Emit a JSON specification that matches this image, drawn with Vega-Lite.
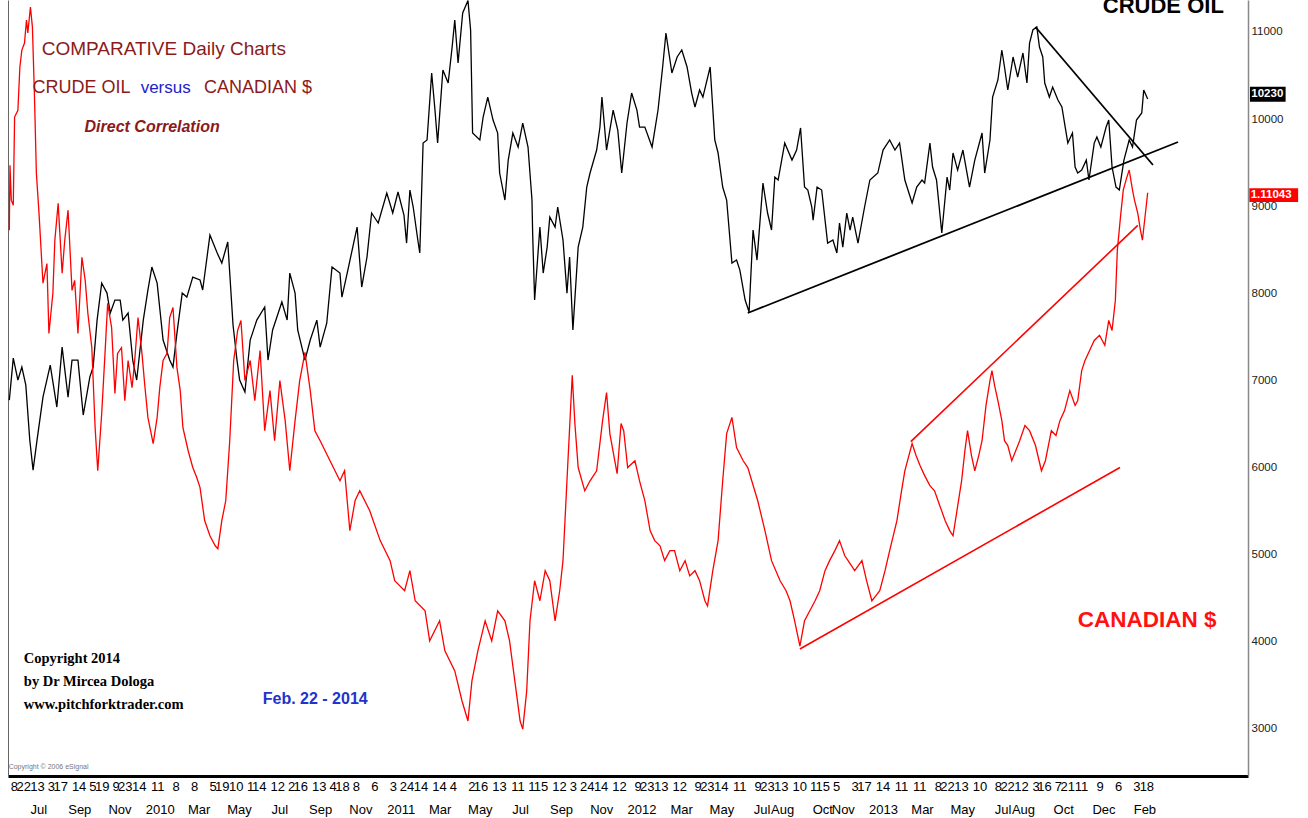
{
  "$schema": "https://vega.github.io/schema/vega-lite/v6.json",
  "width": 1240,
  "height": 776,
  "autosize": "none",
  "padding": {"left": 8, "top": 0, "right": 60, "bottom": 42},
  "background": "white",
  "config": {
    "view": {"stroke": null},
    "font": "Liberation Sans, Arial, sans-serif",
    "axis": {"grid": false, "title": null, "labelFont": "Liberation Sans, Arial, sans-serif"}
  },
  "datasets": {
    "crude": [
      {"date":"2009-06-01","v":6775},{"date":"2009-06-07","v":7257},{"date":"2009-06-14","v":7005},{"date":"2009-06-20","v":7154},{"date":"2009-06-26","v":6947},{"date":"2009-07-02","v":6316},{"date":"2009-07-07","v":5971},{"date":"2009-07-13","v":6316},{"date":"2009-07-22","v":6809},{"date":"2009-08-02","v":7177},{"date":"2009-08-08","v":6890},{"date":"2009-08-12","v":6695},{"date":"2009-08-20","v":7383},{"date":"2009-08-29","v":6809},{"date":"2009-09-04","v":7234},{"date":"2009-09-13","v":7234},{"date":"2009-09-21","v":6603},{"date":"2009-10-01","v":7039},{"date":"2009-10-06","v":7154},{"date":"2009-10-12","v":7693},{"date":"2009-10-19","v":8118},{"date":"2009-10-27","v":8003},{"date":"2009-11-01","v":7774},{"date":"2009-11-08","v":7923},{"date":"2009-11-16","v":7923},{"date":"2009-11-20","v":7693},{"date":"2009-11-28","v":7774},{"date":"2009-12-05","v":7234},{"date":"2009-12-11","v":7005},{"date":"2009-12-21","v":7693},{"date":"2009-12-28","v":8038},
      {"date":"2010-01-03","v":8302},{"date":"2010-01-11","v":8118},{"date":"2010-01-20","v":7464},{"date":"2010-01-30","v":7234},{"date":"2010-02-04","v":7154},{"date":"2010-02-10","v":7544},{"date":"2010-02-18","v":8003},{"date":"2010-02-25","v":7957},{"date":"2010-03-06","v":8187},{"date":"2010-03-17","v":8153},{"date":"2010-03-21","v":8038},{"date":"2010-04-01","v":8669},{"date":"2010-04-12","v":8463},{"date":"2010-04-19","v":8348},{"date":"2010-04-28","v":8589},{"date":"2010-05-06","v":7636},{"date":"2010-05-12","v":7234},{"date":"2010-05-16","v":7005},{"date":"2010-05-24","v":6867},{"date":"2010-06-01","v":7464},{"date":"2010-06-11","v":7693},{"date":"2010-06-23","v":7843},{"date":"2010-06-28","v":7234},{"date":"2010-07-05","v":7579},{"date":"2010-07-19","v":7900},{"date":"2010-07-27","v":7693},{"date":"2010-07-31","v":8233},{"date":"2010-08-08","v":8003},{"date":"2010-08-12","v":7579},{"date":"2010-08-23","v":7234},{"date":"2010-08-31","v":7464},{"date":"2010-09-10","v":7693},{"date":"2010-09-15","v":7383},{"date":"2010-09-25","v":7659},{"date":"2010-10-03","v":8302},{"date":"2010-10-15","v":8233},{"date":"2010-10-18","v":7957},{"date":"2010-10-26","v":8233},{"date":"2010-11-10","v":8761},{"date":"2010-11-17","v":8072},{"date":"2010-11-25","v":8417},{"date":"2010-12-02","v":8922},{"date":"2010-12-12","v":8807},{"date":"2010-12-25","v":9151},
      {"date":"2011-01-03","v":8922},{"date":"2011-01-11","v":9163},{"date":"2011-01-20","v":8899},{"date":"2011-01-24","v":8577},{"date":"2011-01-29","v":9186},{"date":"2011-02-03","v":8991},{"date":"2011-02-10","v":8612},{"date":"2011-02-13","v":8463},{"date":"2011-02-18","v":9725},{"date":"2011-02-24","v":9760},{"date":"2011-03-03","v":10529},{"date":"2011-03-08","v":10104},{"date":"2011-03-12","v":9725},{"date":"2011-03-20","v":10563},{"date":"2011-03-28","v":10414},{"date":"2011-04-03","v":10827},{"date":"2011-04-07","v":11137},{"date":"2011-04-12","v":10644},{"date":"2011-04-19","v":11218},{"date":"2011-04-27","v":11360},{"date":"2011-05-01","v":11023},{"date":"2011-05-04","v":9840},{"date":"2011-05-15","v":9760},{"date":"2011-05-20","v":10024},{"date":"2011-05-27","v":10253},{"date":"2011-06-04","v":9989},{"date":"2011-06-11","v":9840},{"date":"2011-06-14","v":9381},{"date":"2011-06-22","v":9071},{"date":"2011-06-27","v":9530},{"date":"2011-07-04","v":9840},{"date":"2011-07-12","v":9679},{"date":"2011-07-19","v":9955},{"date":"2011-07-27","v":9679},{"date":"2011-08-02","v":9071},{"date":"2011-08-03","v":8692},{"date":"2011-08-06","v":7923},{"date":"2011-08-14","v":8761},{"date":"2011-08-19","v":8233},{"date":"2011-08-25","v":8531},{"date":"2011-08-29","v":8876},{"date":"2011-09-06","v":8761},{"date":"2011-09-10","v":8991},{"date":"2011-09-18","v":8612},{"date":"2011-09-24","v":8003},{"date":"2011-09-28","v":8417},{"date":"2011-10-03","v":7579},{"date":"2011-10-11","v":8531},{"date":"2011-10-18","v":8761},{"date":"2011-10-24","v":9220},{"date":"2011-10-29","v":9381},{"date":"2011-11-08","v":9645},{"date":"2011-11-13","v":9909},{"date":"2011-11-16","v":10253},{"date":"2011-11-23","v":9645},{"date":"2011-12-03","v":10104},{"date":"2011-12-10","v":9875},{"date":"2011-12-16","v":9381},{"date":"2011-12-24","v":9955},{"date":"2011-12-31","v":10299},
      {"date":"2012-01-08","v":10104},{"date":"2012-01-12","v":9909},{"date":"2012-01-20","v":9909},{"date":"2012-01-31","v":9679},{"date":"2012-02-09","v":10104},{"date":"2012-02-16","v":10598},{"date":"2012-02-21","v":10988},{"date":"2012-03-01","v":10529},{"date":"2012-03-09","v":10713},{"date":"2012-03-16","v":10793},{"date":"2012-03-24","v":10598},{"date":"2012-03-31","v":10299},{"date":"2012-04-05","v":10139},{"date":"2012-04-12","v":10334},{"date":"2012-04-17","v":10253},{"date":"2012-04-28","v":10598},{"date":"2012-05-05","v":9760},{"date":"2012-05-10","v":9611},{"date":"2012-05-17","v":9220},{"date":"2012-05-23","v":9071},{"date":"2012-05-31","v":8348},{"date":"2012-06-07","v":8382},{"date":"2012-06-12","v":8267},{"date":"2012-06-20","v":7923},{"date":"2012-06-26","v":7785},{"date":"2012-07-02","v":8727},{"date":"2012-07-08","v":8382},{"date":"2012-07-17","v":9266},{"date":"2012-07-24","v":8922},{"date":"2012-07-30","v":8727},{"date":"2012-08-04","v":9335},{"date":"2012-08-09","v":9301},{"date":"2012-08-19","v":9725},{"date":"2012-08-30","v":9530},{"date":"2012-09-06","v":9645},{"date":"2012-09-12","v":9898},{"date":"2012-09-18","v":9220},{"date":"2012-09-23","v":9186},{"date":"2012-09-29","v":8991},{"date":"2012-10-01","v":8841},{"date":"2012-10-07","v":9220},{"date":"2012-10-14","v":9186},{"date":"2012-10-23","v":8577},{"date":"2012-10-31","v":8612},{"date":"2012-11-06","v":8463},{"date":"2012-11-10","v":8807},{"date":"2012-11-15","v":8531},{"date":"2012-11-21","v":8922},{"date":"2012-11-26","v":8727},{"date":"2012-11-30","v":8876},{"date":"2012-12-08","v":8577},{"date":"2012-12-18","v":8991},{"date":"2012-12-26","v":9301},
      {"date":"2013-01-07","v":9381},{"date":"2013-01-15","v":9645},{"date":"2013-01-25","v":9760},{"date":"2013-02-02","v":9645},{"date":"2013-02-09","v":9725},{"date":"2013-02-17","v":9301},{"date":"2013-02-28","v":9037},{"date":"2013-03-07","v":9220},{"date":"2013-03-15","v":9301},{"date":"2013-03-19","v":9266},{"date":"2013-03-27","v":9725},{"date":"2013-03-31","v":9450},{"date":"2013-04-06","v":9301},{"date":"2013-04-14","v":8692},{"date":"2013-04-22","v":9335},{"date":"2013-04-26","v":9186},{"date":"2013-05-01","v":9611},{"date":"2013-05-08","v":9415},{"date":"2013-05-16","v":9645},{"date":"2013-05-26","v":9220},{"date":"2013-06-03","v":9530},{"date":"2013-06-14","v":9840},{"date":"2013-06-18","v":9381},{"date":"2013-06-26","v":9760},{"date":"2013-06-30","v":10253},{"date":"2013-07-08","v":10449},{"date":"2013-07-14","v":10793},{"date":"2013-07-18","v":10598},{"date":"2013-07-23","v":10334},{"date":"2013-07-31","v":10713},{"date":"2013-08-07","v":10483},{"date":"2013-08-15","v":10759},{"date":"2013-08-21","v":10414},{"date":"2013-08-25","v":10873},{"date":"2013-08-30","v":11023},{"date":"2013-09-05","v":11057},{"date":"2013-09-09","v":10827},{"date":"2013-09-14","v":10713},{"date":"2013-09-17","v":10414},{"date":"2013-09-24","v":10253},{"date":"2013-09-29","v":10368},{"date":"2013-10-07","v":10219},{"date":"2013-10-13","v":10139},{"date":"2013-10-18","v":9909},{"date":"2013-10-22","v":9725},{"date":"2013-10-29","v":9840},{"date":"2013-11-02","v":9450},{"date":"2013-11-06","v":9381},{"date":"2013-11-12","v":9415},{"date":"2013-11-19","v":9530},{"date":"2013-11-23","v":9301},{"date":"2013-12-01","v":9725},{"date":"2013-12-05","v":9794},{"date":"2013-12-11","v":9679},{"date":"2013-12-19","v":9909},{"date":"2013-12-23","v":9989},{"date":"2013-12-28","v":9450},
      {"date":"2014-01-03","v":9220},{"date":"2014-01-08","v":9186},{"date":"2014-01-15","v":9530},{"date":"2014-01-23","v":9760},{"date":"2014-01-28","v":9679},{"date":"2014-02-03","v":9989},{"date":"2014-02-11","v":10070},{"date":"2014-02-14","v":10334},{"date":"2014-02-20","v":10230}
    ],
    "cad": [
      {"date":"2009-06-01","v":1.0988},{"date":"2009-06-02","v":1.1189},{"date":"2009-06-04","v":1.1081},{"date":"2009-06-07","v":1.1065},{"date":"2009-06-09","v":1.1338},{"date":"2009-06-14","v":1.1359},{"date":"2009-06-17","v":1.1493},{"date":"2009-06-20","v":1.1545},{"date":"2009-06-24","v":1.1567},{"date":"2009-06-27","v":1.1638},{"date":"2009-06-29","v":1.1598},{"date":"2009-07-03","v":1.1678},{"date":"2009-07-06","v":1.1616},{"date":"2009-07-09","v":1.1412},{"date":"2009-07-12","v":1.1164},{"date":"2009-07-16","v":1.1040},{"date":"2009-07-22","v":1.0824},{"date":"2009-07-28","v":1.0885},{"date":"2009-07-31","v":1.0669},{"date":"2009-08-06","v":1.0793},{"date":"2009-08-09","v":1.0957},{"date":"2009-08-14","v":1.1071},{"date":"2009-08-20","v":1.0855},{"date":"2009-08-24","v":1.0957},{"date":"2009-08-29","v":1.1050},{"date":"2009-09-04","v":1.0802},{"date":"2009-09-08","v":1.0833},{"date":"2009-09-13","v":1.0669},{"date":"2009-09-19","v":1.0904},{"date":"2009-09-24","v":1.0833},{"date":"2009-09-28","v":1.0731},{"date":"2009-10-04","v":1.0625},{"date":"2009-10-09","v":1.0378},{"date":"2009-10-13","v":1.0244},{"date":"2009-10-19","v":1.0421},{"date":"2009-10-24","v":1.0607},{"date":"2009-10-28","v":1.0762},{"date":"2009-11-03","v":1.0687},{"date":"2009-11-08","v":1.0483},{"date":"2009-11-12","v":1.0607},{"date":"2009-11-18","v":1.0625},{"date":"2009-11-23","v":1.0461},{"date":"2009-11-28","v":1.0585},{"date":"2009-12-04","v":1.0501},{"date":"2009-12-08","v":1.0585},{"date":"2009-12-13","v":1.0718},{"date":"2009-12-19","v":1.0607},{"date":"2009-12-23","v":1.0514},{"date":"2009-12-28","v":1.0409},
      {"date":"2010-01-05","v":1.0328},{"date":"2010-01-11","v":1.0409},{"date":"2010-01-15","v":1.0501},{"date":"2010-01-20","v":1.0585},{"date":"2010-01-26","v":1.0607},{"date":"2010-01-30","v":1.0718},{"date":"2010-02-04","v":1.0749},{"date":"2010-02-10","v":1.0563},{"date":"2010-02-15","v":1.0492},{"date":"2010-02-19","v":1.0378},{"date":"2010-02-27","v":1.0306},{"date":"2010-03-06","v":1.0254},{"date":"2010-03-12","v":1.0223},{"date":"2010-03-17","v":1.0192},{"date":"2010-03-24","v":1.0090},{"date":"2010-04-01","v":1.0043},{"date":"2010-04-09","v":1.0012},{"date":"2010-04-13","v":1.0003},{"date":"2010-04-19","v":1.0090},{"date":"2010-04-25","v":1.0152},{"date":"2010-05-01","v":1.0337},{"date":"2010-05-07","v":1.0585},{"date":"2010-05-13","v":1.0678},{"date":"2010-05-18","v":1.0709},{"date":"2010-05-24","v":1.0523},{"date":"2010-06-01","v":1.0585},{"date":"2010-06-08","v":1.0461},{"date":"2010-06-16","v":1.0616},{"date":"2010-06-23","v":1.0368},{"date":"2010-07-01","v":1.0492},{"date":"2010-07-08","v":1.0337},{"date":"2010-07-16","v":1.0523},{"date":"2010-07-24","v":1.0399},{"date":"2010-07-31","v":1.0244},{"date":"2010-08-08","v":1.0399},{"date":"2010-08-15","v":1.0523},{"date":"2010-08-23","v":1.0610},{"date":"2010-08-31","v":1.0492},{"date":"2010-09-07","v":1.0368},{"date":"2010-09-15","v":1.0337},{"date":"2010-09-30","v":1.0275},{"date":"2010-10-15","v":1.0213},{"date":"2010-10-22","v":1.0244},{"date":"2010-10-30","v":1.0059},{"date":"2010-11-07","v":1.0152},{"date":"2010-11-14","v":1.0182},{"date":"2010-11-29","v":1.0121},{"date":"2010-12-15","v":1.0028},{"date":"2010-12-30","v":0.9966},
      {"date":"2011-01-06","v":0.9904},{"date":"2011-01-21","v":0.9873},{"date":"2011-01-29","v":0.9935},{"date":"2011-02-06","v":0.9842},{"date":"2011-02-21","v":0.9811},{"date":"2011-02-28","v":0.9718},{"date":"2011-03-15","v":0.9780},{"date":"2011-03-23","v":0.9687},{"date":"2011-04-07","v":0.9625},{"date":"2011-04-18","v":0.9532},{"date":"2011-04-27","v":0.9470},{"date":"2011-05-03","v":0.9594},{"date":"2011-05-12","v":0.9687},{"date":"2011-05-23","v":0.9780},{"date":"2011-06-02","v":0.9718},{"date":"2011-06-11","v":0.9811},{"date":"2011-06-22","v":0.9780},{"date":"2011-06-29","v":0.9718},{"date":"2011-07-07","v":0.9594},{"date":"2011-07-15","v":0.9470},{"date":"2011-07-19","v":0.9445},{"date":"2011-07-25","v":0.9563},{"date":"2011-07-30","v":0.9780},{"date":"2011-08-06","v":0.9904},{"date":"2011-08-14","v":0.9842},{"date":"2011-08-22","v":0.9935},{"date":"2011-08-29","v":0.9904},{"date":"2011-09-06","v":0.9780},{"date":"2011-09-13","v":0.9873},{"date":"2011-09-18","v":0.9966},{"date":"2011-09-24","v":1.0213},{"date":"2011-10-02","v":1.0539},{"date":"2011-10-06","v":1.0390},{"date":"2011-10-11","v":1.0254},{"date":"2011-10-21","v":1.0182},{"date":"2011-10-29","v":1.0213},{"date":"2011-11-08","v":1.0244},{"date":"2011-11-17","v":1.0399},{"date":"2011-11-23","v":1.0486},{"date":"2011-11-28","v":1.0359},{"date":"2011-12-09","v":1.0235},{"date":"2011-12-15","v":1.0390},{"date":"2011-12-19","v":1.0368},{"date":"2011-12-25","v":1.0254},
      {"date":"2012-01-05","v":1.0275},{"date":"2012-01-12","v":1.0213},{"date":"2012-01-20","v":1.0152},{"date":"2012-01-28","v":1.0059},{"date":"2012-02-04","v":1.0028},{"date":"2012-02-12","v":1.0012},{"date":"2012-02-19","v":0.9966},{"date":"2012-02-27","v":0.9997},{"date":"2012-03-05","v":0.9997},{"date":"2012-03-13","v":0.9935},{"date":"2012-03-21","v":0.9966},{"date":"2012-03-28","v":0.9919},{"date":"2012-04-05","v":0.9935},{"date":"2012-04-12","v":0.9904},{"date":"2012-04-20","v":0.9842},{"date":"2012-04-24","v":0.9826},{"date":"2012-05-02","v":0.9935},{"date":"2012-05-10","v":1.0028},{"date":"2012-05-17","v":1.0213},{"date":"2012-05-23","v":1.0359},{"date":"2012-05-31","v":1.0409},{"date":"2012-06-07","v":1.0316},{"date":"2012-06-17","v":1.0275},{"date":"2012-06-24","v":1.0254},{"date":"2012-06-30","v":1.0213},{"date":"2012-07-09","v":1.0152},{"date":"2012-07-20","v":1.0059},{"date":"2012-07-30","v":0.9966},{"date":"2012-08-12","v":0.9904},{"date":"2012-08-21","v":0.9873},{"date":"2012-08-27","v":0.9842},{"date":"2012-09-03","v":0.9780},{"date":"2012-09-11","v":0.9702},{"date":"2012-09-18","v":0.9780},{"date":"2012-09-26","v":0.9811},{"date":"2012-10-04","v":0.9842},{"date":"2012-10-11","v":0.9873},{"date":"2012-10-19","v":0.9935},{"date":"2012-10-26","v":0.9966},{"date":"2012-11-03","v":0.9997},{"date":"2012-11-10","v":1.0028},{"date":"2012-11-18","v":0.9981},{"date":"2012-11-23","v":0.9966},{"date":"2012-12-03","v":0.9935},{"date":"2012-12-14","v":0.9966},{"date":"2012-12-21","v":0.9904},{"date":"2012-12-29","v":0.9842},
      {"date":"2013-01-04","v":0.9857},{"date":"2013-01-10","v":0.9873},{"date":"2013-01-18","v":0.9935},{"date":"2013-01-25","v":0.9997},{"date":"2013-02-05","v":1.0090},{"date":"2013-02-12","v":1.0182},{"date":"2013-02-17","v":1.0244},{"date":"2013-02-28","v":1.0328},{"date":"2013-03-06","v":1.0291},{"date":"2013-03-12","v":1.0260},{"date":"2013-03-19","v":1.0229},{"date":"2013-03-27","v":1.0198},{"date":"2013-04-03","v":1.0182},{"date":"2013-04-11","v":1.0136},{"date":"2013-04-19","v":1.0090},{"date":"2013-04-26","v":1.0059},{"date":"2013-05-01","v":1.0043},{"date":"2013-05-07","v":1.0121},{"date":"2013-05-14","v":1.0213},{"date":"2013-05-19","v":1.0306},{"date":"2013-05-23","v":1.0368},{"date":"2013-05-29","v":1.0291},{"date":"2013-06-03","v":1.0244},{"date":"2013-06-09","v":1.0291},{"date":"2013-06-14","v":1.0337},{"date":"2013-06-20","v":1.0446},{"date":"2013-06-26","v":1.0523},{"date":"2013-06-29","v":1.0554},{"date":"2013-07-03","v":1.0508},{"date":"2013-07-08","v":1.0461},{"date":"2013-07-14","v":1.0399},{"date":"2013-07-18","v":1.0337},{"date":"2013-07-23","v":1.0322},{"date":"2013-07-29","v":1.0275},{"date":"2013-08-04","v":1.0306},{"date":"2013-08-10","v":1.0337},{"date":"2013-08-18","v":1.0384},{"date":"2013-08-25","v":1.0368},{"date":"2013-09-03","v":1.0322},{"date":"2013-09-12","v":1.0244},{"date":"2013-09-18","v":1.0275},{"date":"2013-09-27","v":1.0368},{"date":"2013-10-04","v":1.0353},{"date":"2013-10-10","v":1.0399},{"date":"2013-10-17","v":1.0430},{"date":"2013-10-25","v":1.0492},{"date":"2013-11-02","v":1.0446},{"date":"2013-11-06","v":1.0461},{"date":"2013-11-12","v":1.0554},{"date":"2013-11-17","v":1.0585},{"date":"2013-11-24","v":1.0616},{"date":"2013-12-01","v":1.0647},{"date":"2013-12-09","v":1.0663},{"date":"2013-12-17","v":1.0632},{"date":"2013-12-23","v":1.0709},{"date":"2013-12-28","v":1.0678},
      {"date":"2014-01-02","v":1.0771},{"date":"2014-01-05","v":1.0926},{"date":"2014-01-10","v":1.1034},{"date":"2014-01-14","v":1.1112},{"date":"2014-01-19","v":1.1149},{"date":"2014-01-23","v":1.1174},{"date":"2014-01-28","v":1.1112},{"date":"2014-01-31","v":1.1081},{"date":"2014-02-05","v":1.1040},{"date":"2014-02-09","v":1.0988},{"date":"2014-02-12","v":1.0957},{"date":"2014-02-20","v":1.1104}
    ]
  },
  "encoding": {
    "x": {"field": "date", "type": "temporal", "scale": {"type": "utc", "domain": [{"year": 2009, "month": 5, "date": 30, "utc": true}, {"year": 2014, "month": 7, "date": 22, "utc": true}], "nice": false}, "axis": null}
  },
  "layer": [
    {
      "data": {"name": "crude"},
      "mark": {"type": "line", "color": "#000000", "strokeWidth": 1.3},
      "encoding": {
        "x": {"field": "date", "type": "temporal", "scale": {"type": "utc", "domain": [{"year": 2009, "month": 5, "date": 30, "utc": true}, {"year": 2014, "month": 7, "date": 22, "utc": true}], "nice": false},
          "axis": {"orient": "bottom", "values": {"expr": "[utc(2009,5,8),utc(2009,5,22),utc(2009,6,13),utc(2009,7,3),utc(2009,7,17),utc(2009,8,14),utc(2009,9,5),utc(2009,9,19),utc(2009,10,9),utc(2009,10,23),utc(2009,11,14),utc(2010,0,11),utc(2010,1,8),utc(2010,2,8),utc(2010,3,5),utc(2010,3,19),utc(2010,4,10),utc(2010,5,1),utc(2010,5,14),utc(2010,6,12),utc(2010,7,2),utc(2010,7,16),utc(2010,8,13),utc(2010,9,4),utc(2010,9,18),utc(2010,10,8),utc(2010,11,6),utc(2011,0,3),utc(2011,0,24),utc(2011,1,14),utc(2011,2,14),utc(2011,3,4),utc(2011,4,2),utc(2011,4,16),utc(2011,5,13),utc(2011,6,11),utc(2011,7,1),utc(2011,7,15),utc(2011,8,12),utc(2011,9,3),utc(2011,9,24),utc(2011,10,14),utc(2011,11,12),utc(2012,0,9),utc(2012,0,23),utc(2012,1,13),utc(2012,2,12),utc(2012,3,9),utc(2012,3,23),utc(2012,4,14),utc(2012,5,11),utc(2012,6,9),utc(2012,6,23),utc(2012,7,13),utc(2012,8,10),utc(2012,9,1),utc(2012,9,15),utc(2012,10,5),utc(2012,11,3),utc(2012,11,17),utc(2013,0,14),utc(2013,1,11),utc(2013,2,11),utc(2013,3,8),utc(2013,3,22),utc(2013,4,13),utc(2013,5,10),utc(2013,6,8),utc(2013,6,22),utc(2013,7,12),utc(2013,8,3),utc(2013,8,16),utc(2013,9,7),utc(2013,9,21),utc(2013,10,11),utc(2013,11,9),utc(2014,0,6),utc(2014,1,3),utc(2014,1,18)]"},
            "labelExpr": "'' + utcdate(datum.value)", "domainColor": "#000000", "domainWidth": 3, "ticks": false, "labelPadding": 4, "labelFontSize": 13, "labelColor": "#000000", "labelOverlap": false, "labelFlush": false, "labelBound": false}},
        "y": {"field": "v", "type": "quantitative", "scale": {"domain": [2460, 11367], "nice": false, "zero": false},
          "axis": {"orient": "right", "values": [3000, 4000, 5000, 6000, 7000, 8000, 9000, 10000, 11000], "format": "d", "ticks": false, "labelPadding": 3, "labelAlign": "left", "labelFontSize": 11.5, "labelColor": "#222222", "domainColor": "#888888", "domainWidth": 1.5, "labelOverlap": false}}
      }
    },
    {
      "data": {"name": "cad"},
      "mark": {"type": "line", "color": "#ff0000", "strokeWidth": 1.3},
      "encoding": {
        "x": {"field": "date", "type": "temporal", "scale": {"type": "utc", "domain": [{"year": 2009, "month": 5, "date": 30, "utc": true}, {"year": 2014, "month": 7, "date": 22, "utc": true}], "nice": false},
          "axis": {"orient": "bottom", "values": {"expr": "[utc(2009,6,15),utc(2009,8,15),utc(2009,10,15),utc(2010,0,15),utc(2010,2,15),utc(2010,4,15),utc(2010,6,15),utc(2010,8,15),utc(2010,10,15),utc(2011,0,15),utc(2011,2,15),utc(2011,4,15),utc(2011,6,15),utc(2011,8,15),utc(2011,10,15),utc(2012,0,15),utc(2012,2,15),utc(2012,4,15),utc(2012,6,15),utc(2012,7,15),utc(2012,9,15),utc(2012,10,15),utc(2013,0,15),utc(2013,2,15),utc(2013,4,15),utc(2013,6,15),utc(2013,7,15),utc(2013,9,15),utc(2013,11,15),utc(2014,1,15)]"},
            "labelExpr": "utcmonth(datum.value) == 0 ? utcFormat(datum.value, '%Y') : utcFormat(datum.value, '%b')", "domain": false, "ticks": false, "labelPadding": 27, "labelFontSize": 13, "labelColor": "#000000", "labelOverlap": false, "labelFlush": false, "labelBound": false}},
        "y": {"field": "v", "type": "quantitative", "scale": {"domain": [0.93, 1.17], "nice": false, "zero": false},
          "axis": {"orient": "left", "labels": false, "ticks": false, "domainColor": "#666666", "domainWidth": 1}}
      }
    },
    {
      "data": {"values": [
        {"date": "2012-06-24", "date2": "2014-04-07", "v": 7774, "v2": 9737},
        {"date": "2013-09-03", "date2": "2014-02-28", "v": 11057, "v2": 9473}
      ]},
      "mark": {"type": "rule", "color": "#000000", "strokeWidth": 1.8},
      "encoding": {
        "x2": {"field": "date2"},
        "y": {"field": "v", "type": "quantitative", "scale": {"domain": [2460, 11367], "nice": false, "zero": false}, "axis": null},
        "y2": {"field": "v2"}
      }
    },
    {
      "data": {"values": [
        {"date": "2012-09-11", "date2": "2014-01-09", "v": 0.9693, "v2": 1.0254},
        {"date": "2013-02-26", "date2": "2014-02-05", "v": 1.0334, "v2": 1.1003}
      ]},
      "mark": {"type": "rule", "color": "#ff0000", "strokeWidth": 1.6},
      "encoding": {
        "x2": {"field": "date2"},
        "y": {"field": "v", "type": "quantitative", "scale": {"domain": [0.93, 1.17], "nice": false, "zero": false}, "axis": null},
        "y2": {"field": "v2"}
      }
    },
    {
      "data": {"values": [
        {"date": "2009-07-20", "v": 10736, "label": "COMPARATIVE Daily Charts"}
      ]},
      "mark": {"type": "text", "align": "left", "baseline": "alphabetic", "fontSize": 19, "color": "#8b1a1a"},
      "encoding": {
        "y": {"field": "v", "type": "quantitative", "scale": {"domain": [2460, 11367], "nice": false, "zero": false}, "axis": null},
        "text": {"field": "label"}
      }
    },
    {
      "data": {"values": [
        {"date": "2009-07-06", "v": 10299, "label": "CRUDE OIL"},
        {"date": "2010-03-23", "v": 10299, "label": "CANADIAN $"}
      ]},
      "mark": {"type": "text", "align": "left", "baseline": "alphabetic", "fontSize": 18, "color": "#8b1a1a"},
      "encoding": {
        "y": {"field": "v", "type": "quantitative", "scale": {"domain": [2460, 11367], "nice": false, "zero": false}, "axis": null},
        "text": {"field": "label"}
      }
    },
    {
      "data": {"values": [
        {"date": "2009-12-17", "v": 10299, "label": "versus"}
      ]},
      "mark": {"type": "text", "align": "left", "baseline": "alphabetic", "fontSize": 17, "color": "#2222cc"},
      "encoding": {
        "y": {"field": "v", "type": "quantitative", "scale": {"domain": [2460, 11367], "nice": false, "zero": false}, "axis": null},
        "text": {"field": "label"}
      }
    },
    {
      "data": {"values": [
        {"date": "2009-09-23", "v": 9852, "label": "Direct Correlation"}
      ]},
      "mark": {"type": "text", "align": "left", "baseline": "alphabetic", "fontSize": 16, "fontWeight": "bold", "fontStyle": "italic", "color": "#8b1a1a"},
      "encoding": {
        "y": {"field": "v", "type": "quantitative", "scale": {"domain": [2460, 11367], "nice": false, "zero": false}, "axis": null},
        "text": {"field": "label"}
      }
    },
    {
      "data": {"values": [
        {"date": "2013-12-14", "v": 11218, "label": "CRUDE OIL"}
      ]},
      "mark": {"type": "text", "align": "left", "baseline": "alphabetic", "fontSize": 22, "fontWeight": "bold", "color": "#000000"},
      "encoding": {
        "y": {"field": "v", "type": "quantitative", "scale": {"domain": [2460, 11367], "nice": false, "zero": false}, "axis": null},
        "text": {"field": "label"}
      }
    },
    {
      "data": {"values": [
        {"date": "2013-11-06", "v": 4169, "label": "CANADIAN $"}
      ]},
      "mark": {"type": "text", "align": "left", "baseline": "alphabetic", "fontSize": 22.5, "fontWeight": "bold", "color": "#ff1111"},
      "encoding": {
        "y": {"field": "v", "type": "quantitative", "scale": {"domain": [2460, 11367], "nice": false, "zero": false}, "axis": null},
        "text": {"field": "label"}
      }
    },
    {
      "data": {"values": [
        {"date": "2009-06-23", "v": 3756, "label": "Copyright 2014"},
        {"date": "2009-06-23", "v": 3492, "label": "by Dr Mircea Dologa"},
        {"date": "2009-06-23", "v": 3228, "label": "www.pitchforktrader.com"}
      ]},
      "mark": {"type": "text", "align": "left", "baseline": "alphabetic", "fontSize": 14.5, "fontWeight": "bold", "font": "Liberation Serif, DejaVu Serif, serif", "color": "#000000"},
      "encoding": {
        "y": {"field": "v", "type": "quantitative", "scale": {"domain": [2460, 11367], "nice": false, "zero": false}, "axis": null},
        "text": {"field": "label"}
      }
    },
    {
      "data": {"values": [
        {"date": "2010-06-20", "v": 3285, "label": "Feb. 22 - 2014"}
      ]},
      "mark": {"type": "text", "align": "left", "baseline": "alphabetic", "fontSize": 16, "fontWeight": "bold", "color": "#2233cc"},
      "encoding": {
        "y": {"field": "v", "type": "quantitative", "scale": {"domain": [2460, 11367], "nice": false, "zero": false}, "axis": null},
        "text": {"field": "label"}
      }
    },
    {
      "data": {"values": [
        {"date": "2009-05-31", "v": 2539, "label": "Copyright © 2006 eSignal"}
      ]},
      "mark": {"type": "text", "align": "left", "baseline": "alphabetic", "fontSize": 7, "color": "#777777"},
      "encoding": {
        "y": {"field": "v", "type": "quantitative", "scale": {"domain": [2460, 11367], "nice": false, "zero": false}, "axis": null},
        "text": {"field": "label"}
      }
    },
    {
      "data": {"values": [
        {"date": "2014-07-25", "date2": "2014-09-17", "v": 10370, "v2": 10200}
      ]},
      "mark": {"type": "rect", "color": "#000000"},
      "encoding": {
        "x2": {"field": "date2"},
        "y": {"field": "v", "type": "quantitative", "scale": {"domain": [2460, 11367], "nice": false, "zero": false}, "axis": null},
        "y2": {"field": "v2"}
      }
    },
    {
      "data": {"values": [
        {"date": "2014-07-27", "v": 10285, "label": "10230"}
      ]},
      "mark": {"type": "text", "align": "left", "baseline": "middle", "fontSize": 11.5, "fontWeight": "bold", "color": "#ffffff"},
      "encoding": {
        "y": {"field": "v", "type": "quantitative", "scale": {"domain": [2460, 11367], "nice": false, "zero": false}, "axis": null},
        "text": {"field": "label"}
      }
    },
    {
      "data": {"values": [
        {"date": "2014-07-24", "date2": "2014-10-06", "v": 1.1118, "v2": 1.1075}
      ]},
      "mark": {"type": "rect", "color": "#ff0000"},
      "encoding": {
        "x2": {"field": "date2"},
        "y": {"field": "v", "type": "quantitative", "scale": {"domain": [0.93, 1.17], "nice": false, "zero": false}, "axis": null},
        "y2": {"field": "v2"}
      }
    },
    {
      "data": {"values": [
        {"date": "2014-07-26", "v": 1.1097, "label": "1.11043"}
      ]},
      "mark": {"type": "text", "align": "left", "baseline": "middle", "fontSize": 11.5, "fontWeight": "bold", "color": "#ffffff"},
      "encoding": {
        "y": {"field": "v", "type": "quantitative", "scale": {"domain": [0.93, 1.17], "nice": false, "zero": false}, "axis": null},
        "text": {"field": "label"}
      }
    }
  ],
  "resolve": {"scale": {"y": "independent"}, "axis": {"x": "independent", "y": "independent"}}
}
